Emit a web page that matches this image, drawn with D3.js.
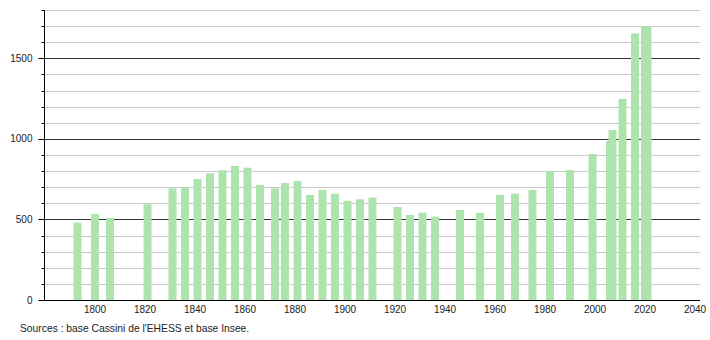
<!DOCTYPE html>
<html>
<head>
<meta charset="utf-8">
<script src="https://cdn.jsdelivr.net/npm/d3@7"></script>
<style>
    body { margin: 0; background: #fff; }
    svg { display: block; font-family: "Liberation Sans", Arial, sans-serif; }
</style>
</head>
<body>
<svg id="chart" width="710" height="340"></svg>
<script>
// Census years and population
const years = [1793, 1800, 1806, 1821, 1831, 1836, 1841, 1846, 1851, 1856,
    1861, 1866, 1872, 1876, 1881, 1886, 1891, 1896, 1901, 1906,
    1911, 1921, 1926, 1931, 1936, 1946, 1954, 1962, 1968, 1975,
    1982, 1990, 1999, 2006, 2007, 2011, 2016, 2020, 2021];
const population = [480, 534, 509, 594, 693, 701, 751, 786, 805, 832,
    821, 714, 693, 726, 739, 652, 683, 660, 615, 625,
    635, 577, 528, 542, 517, 559, 540, 652, 660, 683,
    801, 807, 906, 987, 1055, 1248, 1655, 1700, 1701];
const xTicks = [1800, 1820, 1840, 1860, 1880, 1900, 1920, 1940, 1960, 1980, 2000, 2020, 2040];
const yTicks = [0, 500, 1000, 1500];
const gridValues = d3.range(100, 1801, 100);
const source = "Sources : base Cassini de l'EHESS et base Insee.";

const data = years.map((y, i) => ({ year: y, value: population[i] }));

const svg = d3.select("#chart");
const plotLeft = 44.5, plotRight = 700, plotTop = 10, plotBottom = 300;

// Scales
const xScale = d3.scaleLinear().domain([1780, 2042]).range([45, 700]);
const yScale = d3.scaleLinear().domain([0, 1800]).range([plotBottom, plotTop]);

// Horizontal grid lines (dark every 500)
svg.append("g")
    .selectAll("line")
    .data(gridValues)
    .enter()
    .append("line")
    .attr("x1", plotLeft)
    .attr("x2", plotRight)
    .attr("y1", (d) => Math.round(yScale(d)) + 0.5)
    .attr("y2", (d) => Math.round(yScale(d)) + 0.5)
    .attr("stroke", (d) => (d % 500 === 0 ? "#333" : "#c8c8c8"))
    .attr("stroke-width", 1);

// Bars
const barWidth = 8;
svg.append("g")
    .selectAll("rect")
    .data(data)
    .enter()
    .append("rect")
    .attr("x", (d) => xScale(d.year) - barWidth / 2)
    .attr("y", (d) => yScale(d.value))
    .attr("width", barWidth)
    .attr("height", (d) => yScale(0) - yScale(d.value))
    .attr("fill", "#ade3ad");

// Y axis with minor ticks every 100
const yAxis = svg.append("g").attr("transform", `translate(${plotLeft},0)`);
yAxis.append("line")
    .attr("x1", 0).attr("x2", 0)
    .attr("y1", plotTop).attr("y2", plotBottom)
    .attr("stroke", "#000");
yAxis.selectAll("line.tick")
    .data([0].concat(gridValues))
    .enter()
    .append("line")
    .attr("class", "tick")
    .attr("x1", (d) => (d % 500 === 0 ? -6 : -3))
    .attr("x2", 0)
    .attr("y1", (d) => Math.round(yScale(d)) + 0.5)
    .attr("y2", (d) => Math.round(yScale(d)) + 0.5)
    .attr("stroke", "#000");
yAxis.selectAll("text")
    .data(yTicks)
    .enter()
    .append("text")
    .attr("x", -12)
    .attr("y", (d) => yScale(d))
    .attr("dy", "0.35em")
    .attr("text-anchor", "end")
    .attr("font-size", 10)
    .attr("fill", "#222")
    .text((d) => d);

// X axis
const xAxis = svg.append("g").attr("transform", `translate(0,${plotBottom + 0.5})`);
xAxis.append("line")
    .attr("x1", plotLeft).attr("x2", plotRight)
    .attr("stroke", "#000");
xAxis.selectAll("text")
    .data(xTicks)
    .enter()
    .append("text")
    .attr("x", (d) => xScale(d))
    .attr("y", 12.5)
    .attr("text-anchor", "middle")
    .attr("font-size", 10)
    .attr("fill", "#222")
    .text((d) => d);

// Source note
svg.append("text")
    .attr("x", 20)
    .attr("y", 332)
    .attr("font-size", 10.3)
    .attr("fill", "#222")
    .text(source);
</script>
</body>
</html>
